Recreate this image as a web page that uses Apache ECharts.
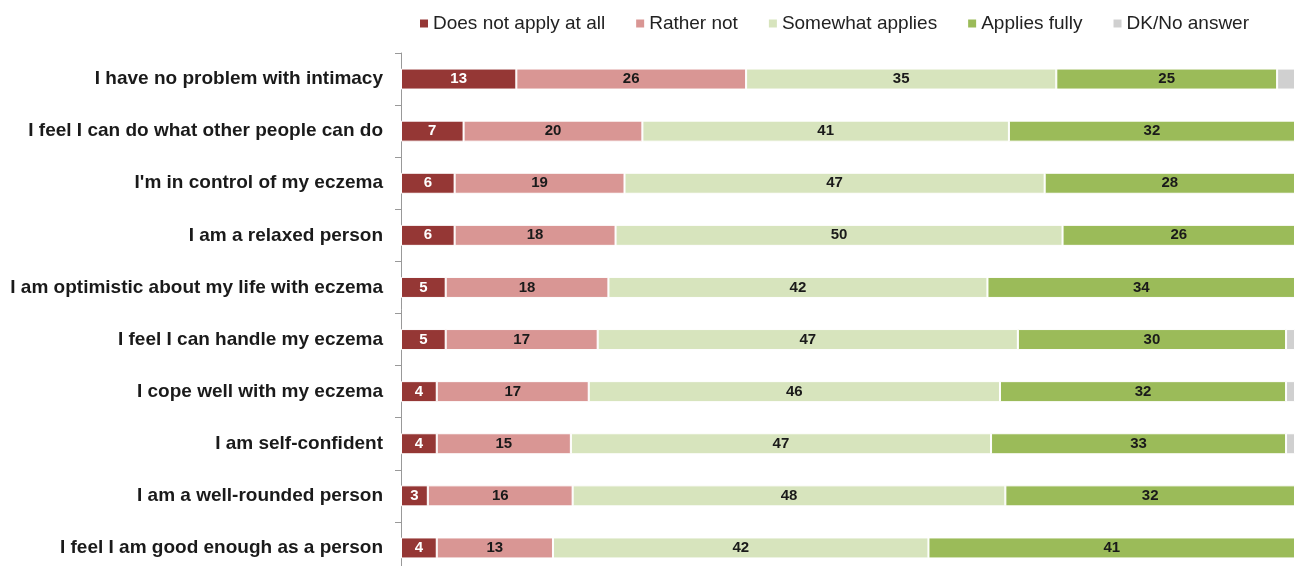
<!DOCTYPE html>
<html>
<head>
<meta charset="utf-8">
<script src="https://cdn.jsdelivr.net/npm/echarts@6/dist/echarts.min.js"></script>
<style>
  html, body { margin: 0; padding: 0; background: #fff; }
  #chart { width: 1296px; height: 566px; }
</style>
</head>
<body>
<div id="chart"></div>
<script>
// statements, top to bottom
const categories = [
  'I have no problem with intimacy',
  'I feel I can do what other people can do',
  "I'm in control of my eczema",
  'I am a relaxed person',
  'I am optimistic about my life with eczema',
  'I feel I can handle my eczema',
  'I cope well with my eczema',
  'I am self-confident',
  'I am a well-rounded person',
  'I feel I am good enough as a person'
]

// shares in %
const notAtAll   = [12.9, 7, 6, 6, 5, 5, 4, 4, 3, 4]
const ratherNot  = [25.7, 20, 19, 18, 18.2, 17, 17, 15, 16.2, 13]
const somewhat   = [34.7, 41, 47, 50, 42.4, 47, 46, 47, 48.4, 42]
const fully      = [24.7, 32, 28, 26, 34.4, 30, 32, 33, 32.4, 41]
const dkNoAnswer = [2, 0, 0, 0, 0, 1, 1, 1, 0, 0]

const seriesNames = ['Does not apply at all', 'Rather not', 'Somewhat applies', 'Applies fully', 'DK/No answer']
const colors = ['#953735', '#d99694', '#d7e4bd', '#9bbb59', '#d0d0d0']
const textColors = ['#ffffff', '#1a1a1a', '#1a1a1a', '#1a1a1a', null]

const chart = echarts.init(document.getElementById('chart'))

function mkSeries(name, data, i) {
  return {
    name: name,
    type: 'bar',
    stack: 'total',
    barWidth: 21,
    data: data,
    itemStyle: { color: colors[i], borderColor: '#ffffff', borderWidth: 1 },
    label: {
      show: textColors[i] !== null,
      position: 'inside',
      color: textColors[i] || '#000',
      fontFamily: 'Liberation Sans',
      fontWeight: 'bold',
      fontSize: 15,
      formatter: p => p.value > 0 ? Math.round(p.value) : ''
    },
    emphasis: { disabled: true }
  }
}

chart.setOption({
  animation: false,
  legend: {
    top: 9,
    left: 413,
    itemWidth: 10,
    itemHeight: 10,
    itemGap: 29,
    icon: 'rect',
    textStyle: { fontFamily: 'Liberation Sans', fontSize: 19, color: '#222', padding: [0, 0, 0, -1] },
    data: seriesNames
  },
  grid: { left: 401, right: 1, top: 53, height: 521, outerBoundsMode: 'none', containLabel: false },
  xAxis: {
    type: 'value',
    min: 0,
    max: 100,
    show: false
  },
  yAxis: {
    type: 'category',
    inverse: true,
    data: categories,
    axisLine: { show: true, lineStyle: { color: '#999', width: 1 } },
    axisTick: { show: true, length: 6, lineStyle: { color: '#999' } },
    axisLabel: {
      margin: 18,
      fontFamily: 'Liberation Sans',
      fontWeight: 'bold',
      fontSize: 19,
      color: '#1a1a1a'
    }
  },
  series: [
    mkSeries(seriesNames[0], notAtAll, 0),
    mkSeries(seriesNames[1], ratherNot, 1),
    mkSeries(seriesNames[2], somewhat, 2),
    mkSeries(seriesNames[3], fully, 3),
    mkSeries(seriesNames[4], dkNoAnswer, 4)
  ]
})
</script>
</body>
</html>
